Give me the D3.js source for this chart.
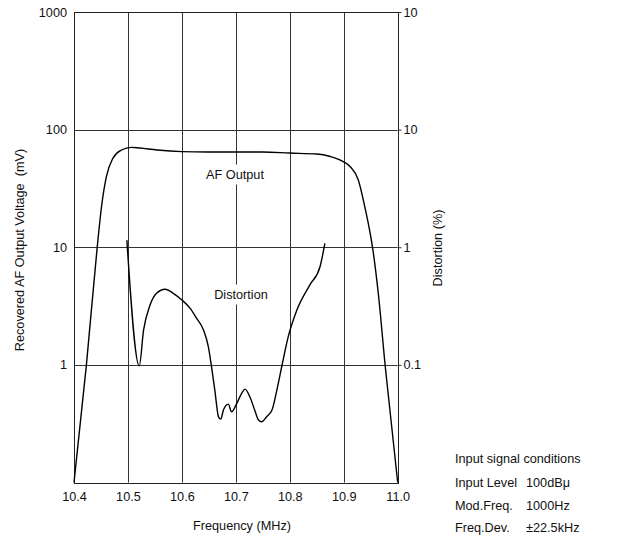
<!DOCTYPE html>
<html>
<head>
<meta charset="utf-8">
<style>
  body { margin: 0; background: white; }
  svg { display: block; background: white; }
  text { font-family: "Liberation Sans", Arial, sans-serif; fill: #111; }
</style>
</head>
<body>
<script src="https://cdn.jsdelivr.net/npm/d3@7"></script>
<script>
// AF output (mV) vs frequency (MHz)
const afFreq = [10.400, 10.423, 10.443, 10.451, 10.460, 10.472, 10.488, 10.506, 10.522, 10.554,
  10.600, 10.647, 10.698, 10.750, 10.800, 10.850, 10.875, 10.899, 10.912, 10.927,
  10.939, 10.949, 10.954, 10.964, 10.977, 11.000];
const afMv = [0.1, 1.0, 10, 22.1, 39.8, 57, 67.1, 70.7, 69.7, 67.1,
  65, 64.5, 64.5, 64.5, 63.2, 62.0, 59.1, 53.5, 48.4, 37.3,
  22.1, 13.1, 9.5, 4.06, 0.96, 0.1];

// distortion (%) vs frequency (MHz)
const distFreq = [10.498, 10.521, 10.529, 10.541, 10.553, 10.569, 10.584, 10.600, 10.615, 10.627,
  10.640, 10.649, 10.655, 10.661, 10.668, 10.672, 10.677, 10.686, 10.692, 10.702,
  10.711, 10.717, 10.726, 10.736, 10.742, 10.748, 10.757, 10.767, 10.776, 10.785,
  10.797, 10.813, 10.837, 10.856, 10.865];
const distPct = [1.15, 0.098, 0.198, 0.323, 0.406, 0.439, 0.406, 0.356, 0.304, 0.25,
  0.198, 0.143, 0.096, 0.061, 0.036, 0.0346, 0.0413, 0.0464, 0.0399, 0.0473,
  0.0576, 0.0622, 0.0535, 0.0399, 0.034, 0.0328, 0.0362, 0.0413, 0.0611, 0.0964,
  0.173, 0.292, 0.477, 0.683, 1.08];

const xTicks = [10.4, 10.5, 10.6, 10.7, 10.8, 10.9, 11.0];
const xTickLabels = ["10.4", "10.5", "10.6", "10.7", "10.8", "10.9", "11.0"];
const leftTicks = [1000, 100, 10, 1];
const leftLabels = ["1000", "100", "10", "1"];
const rightTicks = [100, 10, 1, 0.1];
const rightLabels = ["10", "10", "1", "0.1"];

const condLabels = ["Input Level", "Mod.Freq.", "Freq.Dev."];
const condValues = ["100dBμ", "1000Hz", "±22.5kHz"];

const W = 624, H = 536;
const pL = 74, pR = 397.7, pT = 12, pB = 482.5;
const fs = 12.7;

const svg = d3.select("body").append("svg").attr("width", W).attr("height", H);

const x = d3.scaleLinear().domain([10.4, 11.0]).range([pL, pR]);
const yAF = d3.scaleLog().domain([0.1, 1000]).range([pB, pT]);
const yD = d3.scaleLog().domain([0.01, 100]).range([pB, pT]);

// grid
const grid = svg.append("g").attr("stroke", "#333").attr("stroke-width", 1);
grid.selectAll(".vx").data(xTicks.slice(1, -1)).enter().append("line")
  .attr("x1", d => Math.round(x(d)) + 0.5).attr("x2", d => Math.round(x(d)) + 0.5)
  .attr("y1", pT).attr("y2", pB);
grid.selectAll(".hy").data(leftTicks.slice(1)).enter().append("line")
  .attr("x1", pL).attr("x2", pR)
  .attr("y1", d => Math.round(yAF(d)) + 0.5).attr("y2", d => Math.round(yAF(d)) + 0.5);

svg.append("rect")
  .attr("x", Math.round(pL) + 0.5).attr("y", Math.round(pT) + 0.5)
  .attr("width", Math.round(pR) - Math.round(pL)).attr("height", Math.round(pB) - Math.round(pT))
  .attr("fill", "none").attr("stroke", "#222");

// axes
const ax = d3.axisBottom(x).tickValues(xTicks).tickFormat((d, i) => xTickLabels[i])
  .tickSize(0).tickPadding(9);
const gx = svg.append("g").attr("transform", `translate(0,${pB})`).call(ax);

const al = d3.axisLeft(yAF).tickValues(leftTicks).tickFormat((d, i) => leftLabels[i])
  .tickSize(0).tickPadding(7);
const gl = svg.append("g").attr("transform", `translate(${pL},0)`).call(al);

const ar = d3.axisRight(yD).tickValues(rightTicks).tickFormat((d, i) => rightLabels[i])
  .tickSize(3).tickPadding(2);
const gr = svg.append("g").attr("transform", `translate(${Math.round(pR) + 0.5},0)`).call(ar);

[gx, gl, gr].forEach(g => {
  g.select(".domain").remove();
  g.selectAll("text").attr("font-size", fs).attr("font-family", "Liberation Sans, Arial, sans-serif").attr("fill", "#111");
  g.selectAll("line").attr("stroke", "#333");
});

// curves
const afLine = d3.line().x(d => x(d[0])).y(d => yAF(d[1])).curve(d3.curveMonotoneX);
svg.append("path").datum(afFreq.map((f, i) => [f, afMv[i]]))
  .attr("d", afLine).attr("fill", "none").attr("stroke", "#000").attr("stroke-width", 1.4);

const dLine = d3.line().x(d => x(d[0])).y(d => yD(d[1])).curve(d3.curveMonotoneX);
svg.append("path").datum(distFreq.map((f, i) => [f, distPct[i]]))
  .attr("d", dLine).attr("fill", "none").attr("stroke", "#000").attr("stroke-width", 1.4);

// in-plot labels with white backing
function tag(txt, cx, cy) {
  const g = svg.append("g");
  const bg = g.append("rect").attr("fill", "white");
  const t = g.append("text").attr("x", cx).attr("y", cy + 4.5)
    .attr("text-anchor", "middle").attr("font-size", fs).text(txt);
  const b = t.node().getBBox();
  bg.attr("x", b.x - 2).attr("y", b.y - 3).attr("width", b.width + 4).attr("height", b.height + 6);
}
tag("AF Output", 235, 174);
tag("Distortion", 241, 294);

// axis titles
svg.append("text").attr("x", 242).attr("y", 530).attr("text-anchor", "middle")
  .attr("font-size", fs).text("Frequency (MHz)");
svg.append("text").attr("transform", "translate(24,250) rotate(-90)").attr("text-anchor", "middle")
  .attr("font-size", fs).attr("xml:space", "preserve").text("Recovered AF Output Voltage  (mV)");
svg.append("text").attr("transform", "translate(442,248) rotate(-90)").attr("text-anchor", "middle")
  .attr("font-size", fs).text("Distortion (%)");

// input signal conditions
const cond = svg.append("g");
cond.append("text").attr("x", 455).attr("y", 462.5).attr("font-size", fs).text("Input signal conditions");
condLabels.forEach((l, i) => {
  cond.append("text").attr("x", 455).attr("y", 487 + i * 22.7).attr("font-size", fs).text(l);
  cond.append("text").attr("x", 526).attr("y", 487 + i * 22.7).attr("font-size", fs).text(condValues[i]);
});
</script>
</body>
</html>
